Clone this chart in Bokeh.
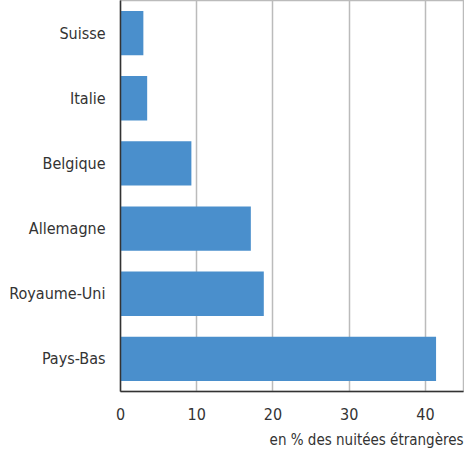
from bokeh.plotting import figure
from bokeh.models import Title, Range1d, FactorRange
from bokeh.embed import file_html
from bokeh.resources import INLINE

countries = ["Pays-Bas", "Royaume-Uni", "Allemagne", "Belgique", "Italie", "Suisse"]
shares = [41.4, 18.8, 17.1, 9.3, 3.5, 3.0]
x_ticks = [0, 10, 20, 30, 40]
axis_title = "en % des nuitées étrangères"

FONT = "DejaVu Sans Condensed"
TXT = "#333333"

p = figure(width=464, height=454, y_range=FactorRange(*countries, range_padding=0),
           x_range=Range1d(0, 45), output_backend="svg", toolbar_location=None)
p.hbar(y=countries, right=shares, left=0, height=0.68, color="#4a8fcc", line_color=None)

p.min_border_left = 120
p.min_border_top = 0
p.min_border_right = 1
p.min_border_bottom = 0
p.outline_line_color = "#bbbbbb"
p.outline_line_width = 1.5

p.xaxis.ticker = x_ticks
p.xgrid.ticker = x_ticks
p.xgrid.grid_line_color = "#bbbbbb"
p.xgrid.grid_line_width = 1.5
p.ygrid.grid_line_color = None

for ax in (p.xaxis, p.yaxis):
    ax.axis_line_color = "#333333"
    ax.axis_line_width = 1.5
    ax.major_tick_line_color = None
    ax.minor_tick_line_color = None
    ax.major_label_text_font = FONT
    ax.major_label_text_font_size = "16px"
    ax.major_label_text_color = TXT
p.yaxis.major_label_standoff = 9
p.xaxis.major_label_standoff = 10

t = Title(text=axis_title, align="right", text_font=FONT, text_font_size="15px",
          text_color=TXT, text_font_style="normal", standoff=12)
p.add_layout(t, "below")

open("out.html", "w").write(file_html(p, INLINE))
